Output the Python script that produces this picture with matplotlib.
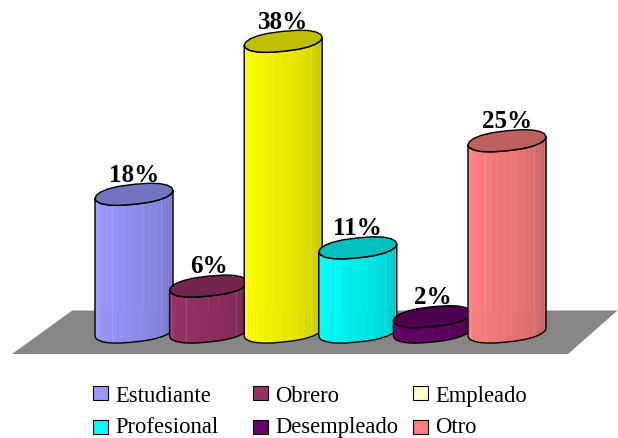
import numpy as np
import matplotlib
matplotlib.use("Agg")
import matplotlib.pyplot as plt
from matplotlib.colors import to_rgb
from matplotlib.patches import Polygon, Rectangle

categories = ["Estudiante", "Obrero", "Empleado", "Profesional", "Desempleado", "Otro"]
values = [18, 6, 38, 11, 2, 25]
labels = ["18%", "6%", "38%", "11%", "2%", "25%"]
bar_colors = ["#9999FF", "#993366", "#FFFF00", "#00FFFF", "#660066", "#FF8080"]
legend_colors = ["#9999FF", "#993366", "#FFFFCC", "#00FFFF", "#660066", "#FF8080"]

W, H = 618, 439
px_x, px_y = 74.6, 7.65       # pixels per category / per percent
x0, y0 = 134.0, 333.0         # pixel of first category centre / of 0 %

fig = plt.figure(figsize=(W / 100, H / 100), dpi=100, facecolor="white")
ax = fig.add_axes([0, 0, 1, 1])
ax.set_xlim(-x0 / px_x, (W - x0) / px_x)
ax.set_ylim(-(H - y0) / px_y, y0 / px_y)
ax.axis("off")
serif = "Liberation Serif"

# floor (in axes fractions)
floor = [(12, 355), (73, 311), (618, 311), (568, 355)]
ax.add_patch(Polygon([(x / W, 1 - y / H) for x, y in floor], closed=True,
                     transform=ax.transAxes, fc="#868686", ec="none", zorder=1))
ax.plot([73 / W, 1], [1 - 310.5 / H] * 2, transform=ax.transAxes, color="#d0d0d0", lw=0.6, zorder=1)

a, b, s = 39.0 / px_x, 10.0 / px_y, 4.0 / px_y


def ring(i, level, t):
    c, d = np.cos(t), np.sin(t)
    xx = np.sign(c) * np.abs(c) ** 0.8
    return np.column_stack([i + a * xx, level + b * d + s * xx])


def shade(col, f):
    return tuple(np.array(to_rgb(col)) * f)


t_front = np.linspace(np.pi, 2 * np.pi, 19)
t_all = np.linspace(0, 2 * np.pi, 21)[:-1]
highlights = (2, 6, 13, 16)

for i, (v, c, lab) in enumerate(zip(values, bar_colors, labels)):
    z = 3 + i
    top, bot = ring(i, v, t_front), ring(i, 0, t_front)
    for k in range(len(t_front) - 1):
        frac = k / (len(t_front) - 2)
        f = 1.0 - 0.25 * frac ** 1.6
        ax.add_patch(Polygon([top[k], top[k + 1], bot[k + 1], bot[k]], closed=True,
                             fc=shade(c, f), ec=shade(c, f), lw=0.3, zorder=z))
        if k in highlights and v > 4:
            light = tuple(0.8 * np.array(shade(c, f)) + 0.2)
            ax.plot([top[k, 0], bot[k, 0]], [top[k, 1], bot[k, 1]], color=light, lw=0.5, zorder=z)
    ax.add_patch(Polygon(np.vstack([top, bot[::-1]]), closed=True, fc="none", ec="black", lw=1.0, zorder=z))
    ax.add_patch(Polygon(ring(i, v, t_all), closed=True, fc=shade(c, 0.75), ec="black", lw=1.0, zorder=z))
    ax.annotate(lab, xy=(i, v), xytext=(0, 14.5), textcoords="offset points", ha="center", va="center",
                family=serif, fontweight="bold", fontsize=18, color="black", zorder=20)

# legend
col_px = [93, 253, 413]
row_px = [394, 428]
base_px = [402, 433.5]
for n, (cat, c) in enumerate(zip(categories, legend_colors)):
    lx, ly, by = col_px[n % 3], row_px[n // 3], base_px[n // 3]
    ax.add_patch(Rectangle((lx / W, 1 - (ly + 7) / H), 15 / W, 14 / H, transform=ax.transAxes,
                           fc=c, ec="black", lw=0.8, zorder=20))
    ax.text((lx + 22) / W, 1 - by / H, cat, transform=ax.transAxes, ha="left", va="baseline",
            family=serif, fontsize=16.3, color="black", zorder=20)

fig.savefig("out.png", dpi=100)
